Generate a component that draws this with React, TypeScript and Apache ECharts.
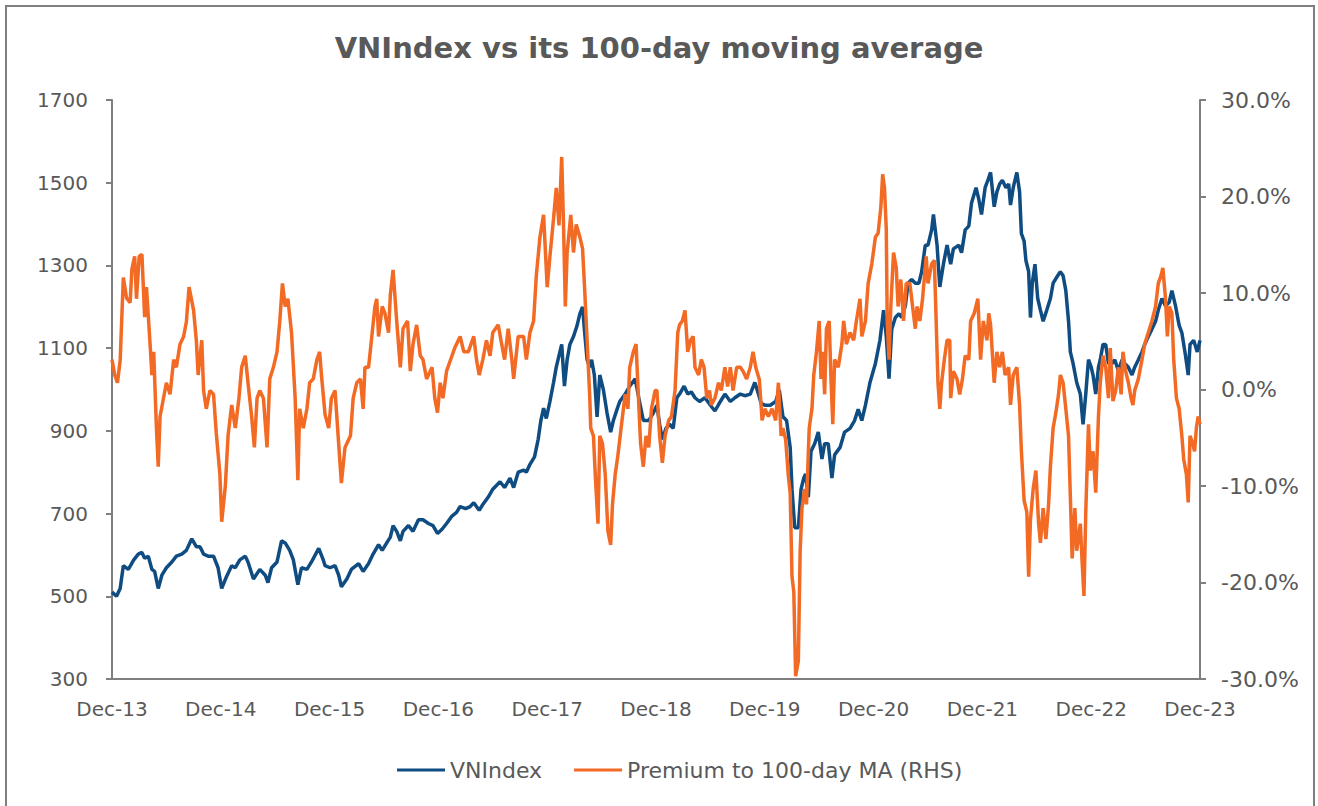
import React, { useEffect, useRef } from "react";
import * as echarts from "echarts";

// x positions are months after Dec-2013 (0 = Dec-13, 120 = Dec-23)
const xTickLabels = ["Dec-13", "Dec-14", "Dec-15", "Dec-16", "Dec-17", "Dec-18", "Dec-19", "Dec-20", "Dec-21", "Dec-22", "Dec-23"];

const vnMonths = [
  0, 0.5, 0.9, 1.25, 1.8, 2.4, 2.9, 3.3, 3.6, 4.0, 4.4, 4.7, 5.1, 5.5, 6.0, 6.6, 7.1, 7.7, 8.2, 8.8, 9.3, 9.7,
  10.1, 10.6, 11.2, 11.7, 12.1, 12.6, 13.2, 13.6, 14.1, 14.7, 15.0, 15.6, 16.3, 16.9, 17.2, 17.6, 18.2, 18.7,
  19.1, 19.6, 20.0, 20.5, 20.9, 21.5, 22.0, 22.8, 23.3, 23.5, 24.05, 24.6, 25.0, 25.3, 25.9, 26.4, 27.2, 27.7,
  28.3, 28.8, 29.4, 29.8, 30.3, 30.7, 31.0, 31.4, 31.8, 32.1, 32.7, 33.2, 33.8, 34.3, 34.9, 35.4, 35.9, 36.4,
  36.9, 37.5, 38.0, 38.4, 39.0, 39.5, 39.9, 40.5, 40.9, 41.5, 42.0, 42.8, 43.3, 43.9, 44.3, 44.8, 45.4, 45.7,
  46.1, 46.6, 47.0, 47.3, 47.6, 47.9, 48.3, 48.7, 49.0, 49.3, 49.6, 49.9, 50.2, 50.5, 50.9, 51.3, 51.6, 51.9,
  52.1, 52.4, 52.7, 52.9, 53.2, 53.5, 53.8, 54.2, 54.6, 55.0, 55.3, 55.7, 56.0, 56.6, 57.1, 57.7, 58.1, 58.6,
  59.2, 59.7, 60.1, 60.4, 60.7, 61.1, 61.5, 61.9, 62.3, 62.6, 63.1, 63.5, 63.9, 64.3, 64.8, 65.4, 66.0, 66.5,
  67.1, 67.6, 68.2, 68.7, 69.3, 69.8, 70.4, 70.9, 71.3, 71.6, 72.0, 72.6, 73.2, 73.6, 74.0, 74.4, 74.8, 75.0,
  75.3, 75.7, 76.0, 76.3, 76.5, 76.8, 77.1, 77.5, 77.9, 78.3, 78.6, 79.0, 79.4, 79.7, 80.3, 80.8, 81.4, 81.9,
  82.3, 82.7, 83.1, 83.6, 84.2, 84.7, 85.1, 85.4, 85.7, 86.0, 86.4, 86.8, 87.1, 87.5, 87.8, 88.2, 88.6, 89.0,
  89.3, 89.7, 90.0, 90.4, 90.6, 91.0, 91.3, 91.7, 92.1, 92.5, 92.8, 93.4, 93.7, 94.1, 94.5, 94.8, 95.3, 95.6,
  95.9, 96.3, 96.6, 96.9, 97.3, 97.6, 97.9, 98.2, 98.6, 98.9, 99.1, 99.4, 99.8, 100.1, 100.3, 100.6, 100.8,
  101.1, 101.3, 101.5, 101.8, 102.1, 102.4, 102.7, 103.1, 103.5, 103.8, 104.3, 104.6, 104.9, 105.2, 105.5,
  105.7, 106.0, 106.4, 106.8, 107.1, 107.4, 107.7, 108.0, 108.2, 108.5, 108.8, 109.0, 109.3, 109.6, 109.9,
  110.3, 110.6, 111.0, 111.4, 111.7, 112.1, 112.5, 112.8, 113.2, 113.6, 113.9, 114.3, 114.7, 115.1, 115.4,
  115.8, 116.2, 116.6, 116.9, 117.3, 117.7, 118.0, 118.4, 118.7, 118.9, 119.3, 119.7, 120.0,
];

const vnIndex = [
  510, 500, 519, 574, 565, 588, 602, 606, 592, 597, 565, 560, 519, 551, 569, 583, 597, 602, 611, 639, 620, 620,
  602, 597, 597, 569, 519, 546, 574, 569, 588, 597, 583, 542, 565, 551, 533, 569, 583, 634,
  629, 611, 588, 528, 569, 565, 583, 616, 588, 574, 569, 574, 551, 523, 542, 565, 579, 560,
  579, 602, 625, 611, 629, 643, 671, 657, 634, 657, 671, 657, 685, 685, 676, 671, 652, 662,
  676, 694, 703, 717, 712, 717, 726, 708, 722, 740, 759, 777, 763, 786, 763, 800, 805, 800,
  819, 837, 879, 925, 955, 930, 971, 1017, 1054, 1082, 1109, 1008, 1072, 1109, 1128, 1155, 1183, 1200,
  1146, 1072, 1054, 1072, 1035, 934, 1035, 999, 943, 897, 925, 952, 971, 989, 1008, 1026, 980, 925,
  925, 943, 962, 916, 879, 906, 916, 906, 980, 989, 1008, 989, 994, 980, 971, 980, 962, 948,
  971, 989, 971, 980, 989, 985, 989, 1017, 989, 966, 962, 962, 971, 999, 934, 925, 860, 759,
  666, 666, 759, 786, 796, 740, 851, 869, 897, 832, 869, 869, 786, 842, 860, 897, 906, 925,
  952, 925, 962, 1017, 1063, 1119, 1192, 1128, 1026, 1146, 1174, 1183, 1174, 1202, 1257, 1266, 1257, 1257,
  1285, 1349, 1349, 1386, 1423, 1349, 1248, 1303, 1349, 1303, 1340, 1349, 1331, 1386, 1395, 1451, 1488, 1460,
  1423, 1488, 1506, 1525, 1442, 1478, 1497, 1506, 1488, 1497, 1446, 1488, 1525, 1478, 1377, 1359, 1312,
  1285, 1174, 1257, 1303, 1220, 1192, 1165, 1192, 1220, 1257, 1275, 1285, 1275, 1239, 1165,
  1091, 1063, 1017, 989, 916, 989, 1072, 1054, 1035, 989, 1054, 1072, 1109, 1109, 1063,
  1063, 1072, 1045, 1072, 1063, 1054, 1035, 1054, 1072, 1091, 1109, 1128, 1146, 1165, 1192,
  1220, 1202, 1211, 1239, 1202, 1155, 1137, 1082, 1035, 1109, 1119, 1091, 1119,
];

const premMonths = [
  0, 0.3, 0.6, 0.9, 1.25, 1.6, 2.0, 2.2, 2.5, 2.7, 3.0, 3.3, 3.6, 3.8, 4.2, 4.4, 4.6, 4.9, 5.1, 5.3, 5.7, 6.0,
  6.4, 6.8, 7.1, 7.5, 7.9, 8.2, 8.5, 9.0, 9.3, 9.5, 9.9, 10.1, 10.4, 10.8, 11.2, 11.5, 11.9, 12.1, 12.5, 12.8,
  13.2, 13.6, 14.0, 14.3, 14.7, 15.0, 15.4, 15.7, 16.0, 16.3, 16.7, 17.1, 17.4, 17.8, 18.2, 18.5, 18.8, 19.1,
  19.4, 19.8, 20.2, 20.5, 20.7, 21.1, 21.5, 21.8, 22.2, 22.6, 22.9, 23.1, 23.5, 23.9, 24.2, 24.6, 25.0, 25.3,
  25.7, 26.3, 26.6, 27.0, 27.4, 27.7, 27.9, 28.3, 28.7, 29.0, 29.2, 29.4, 29.8, 30.1, 30.5, 30.7, 31.0, 31.4,
  31.8, 32.1, 32.6, 32.9, 33.2, 33.6, 34.0, 34.3, 34.7, 35.3, 35.6, 35.9, 36.2, 36.5, 36.9, 37.5, 37.8, 38.4,
  38.8, 39.3, 39.9, 40.2, 40.5, 40.9, 41.3, 41.7, 42.0, 42.6, 42.9, 43.3, 43.7, 44.1, 44.3, 44.8, 45.4, 45.7,
  46.1, 46.5, 46.8, 47.2, 47.6, 48.0, 48.3, 48.7, 49.0, 49.3, 49.6, 49.8, 50.0, 50.2, 50.6, 50.9, 51.2, 51.6,
  51.9, 52.1, 52.3, 52.5, 52.7, 52.8, 53.1, 53.3, 53.6, 53.8, 54.1, 54.4, 54.7, 55.0, 55.2, 55.5, 55.8, 56.2,
  56.6, 56.9, 57.1, 57.5, 57.8, 58.1, 58.3, 58.6, 58.9, 59.2, 59.5, 59.9, 60.1, 60.4, 60.7, 61.0, 61.4, 61.7,
  62.1, 62.4, 62.6, 62.9, 63.2, 63.5, 63.8, 64.1, 64.3, 64.7, 65.0, 65.3, 65.6, 65.9, 66.1, 66.5, 66.9, 67.2,
  67.6, 67.9, 68.2, 68.5, 68.9, 69.3, 69.6, 70.0, 70.4, 70.7, 71.0, 71.4, 71.7, 72.0, 72.4, 72.8, 73.2, 73.5,
  73.8, 74.0, 74.3, 74.6, 74.8, 75.0, 75.2, 75.4, 75.7, 75.9, 76.1, 76.4, 76.6, 76.9, 77.2, 77.4, 77.7, 78.0,
  78.2, 78.4, 78.6, 78.8, 79.1, 79.3, 79.5, 79.7, 80.1, 80.5, 80.7, 81.0, 81.4, 81.8, 82.1, 82.5, 82.7, 83.1,
  83.4, 83.8, 84.2, 84.5, 84.8, 85.0, 85.2, 85.4, 85.5, 85.7, 85.9, 86.2, 86.5, 86.7, 87.0, 87.3, 87.6, 88.0,
  88.3, 88.6, 88.8, 89.1, 89.4, 89.8, 90.0, 90.4, 90.7, 90.9, 91.1, 91.3, 91.5, 91.8, 92.1, 92.4, 92.5, 92.8,
  93.2, 93.5, 93.8, 94.1, 94.5, 94.7, 95.1, 95.5, 95.8, 96.1, 96.5, 96.7, 96.9, 97.3, 97.6, 97.9, 98.2, 98.5,
  98.9, 99.1, 99.4, 99.8, 100.1, 100.3, 100.6, 100.9, 101.1, 101.3, 101.6, 101.9, 102.2, 102.4, 102.7, 103.0,
  103.3, 103.5, 103.8, 104.1, 104.4, 104.6, 104.9, 105.2, 105.5, 105.7, 105.9, 106.2, 106.4, 106.8, 107.0,
  107.2, 107.4, 107.7, 107.9, 108.2, 108.5, 108.8, 109.0, 109.3, 109.6, 109.9, 110.1, 110.4, 110.7, 111.0,
  111.3, 111.5, 111.8, 112.1, 112.4, 112.6, 112.8, 113.2, 113.6, 113.9, 114.3, 114.7, 115.1, 115.4, 115.7,
  115.9, 116.2, 116.4, 116.6, 116.9, 117.1, 117.4, 117.7, 118.0, 118.2, 118.5, 118.7, 118.9, 119.2, 119.4,
  119.6, 119.8, 120.0,
];

// premium to 100-day MA, in percent
const premium = [
  3.1, 1.5, 0.7, 3.0, 11.6, 9.5, 9.0, 12.5, 13.8, 9.4, 13.8, 14.0, 7.5, 10.6, 4.7, 1.5, 3.9, -4.0, -8.0, -2.8, -0.8, 0.7,
  -0.5, 3.1, 2.3, 4.7, 5.5, 7.0, 10.6, 8.2, 5.1, 1.5, 5.1, -0.1, -2.0, -0.1, -0.5, -4.5, -8.8, -13.7, -10.0, -4.8,
  -1.6, -4.0, -0.9, 2.3, 3.5, 0.7, -2.8, -6.0, -0.9, -0.1, -0.9, -6.0, 1.1, 2.3, 3.9, 7.0, 11.0, 8.6,
  9.4, 5.9, -0.9, -9.4, -2.0, -4.0, -2.0, 0.7, 1.1, 3.1, 3.9, 1.5, -2.6, -4.0, -0.9, -0.1, -5.6, -9.7,
  -6.0, -4.8, -0.9, 0.7, 1.1, -2.0, 2.3, 2.3, 5.9, 8.6, 9.4, 5.5, 8.6, 7.9, 5.9, 9.8, 12.4, 7.1,
  2.3, 6.3, 7.1, 1.9, 4.7, 6.7, 3.5, 3.1, 1.1, 2.3, -0.9, -2.4, 0.7, -0.9, 1.9, 3.5, 4.3, 5.5,
  3.9, 3.9, 5.5, 3.1, 1.5, 3.1, 5.1, 3.5, 5.9, 6.7, 5.1, 3.1, 6.3, 3.1, 1.1, 5.5, 5.5, 3.1,
  5.9, 7.1, 11.8, 15.8, 18.1, 10.6, 13.8, 17.7, 20.9, 17.0, 24.1, 17.0, 8.6, 14.2, 18.1, 14.2, 17.1, 15.8,
  14.6, 11.0, 7.1, 3.1, -0.9, -4.0, -4.8, -8.8, -13.9, -4.8, -5.6, -8.8, -14.7, -16.1, -11.9, -8.8, -6.8, -3.6,
  -0.5, -2.0, 2.3, 3.9, 4.7, -1.6, -5.6, -8.0, -4.8, -6.0, -2.0, -0.1, -0.1, -4.8, -7.6, -4.8, -3.2, -2.8,
  -0.1, 5.9, 6.7, 7.1, 8.2, 3.9, 5.1, 5.5, 2.3, 1.5, 3.1, 2.3, -0.9, -0.1, -1.6, -0.9, 0.7, -0.1,
  2.3, 0.3, 2.3, -0.1, 2.3, 2.3, 1.9, 1.1, 2.3, 3.9, 2.3, 1.0, -3.2, -2.0, -2.8, -2.0, -3.2, 0.7,
  -4.8, -4.0, -5.2, -9.0, -10.7, -19.4, -21.0, -29.7, -28.1, -16.7, -12.3, -10.3, -11.9, -4.0, -2.0, 1.5, 3.9, 7.1,
  1.1, 3.9, -0.5, 6.3, 7.1, 1.1, -3.6, 3.1, 2.3, 4.7, 7.1, 4.7, 5.9, 5.1, 7.1, 9.4, 5.5, 7.1,
  11.0, 13.0, 15.8, 16.2, 18.9, 22.3, 20.9, 16.6, 7.1, 3.1, 8.6, 14.2, 12.6, 8.6, 11.4, 7.1, 11.0, 11.0,
  8.6, 6.3, 8.6, 7.1, 9.4, 13.8, 11.0, 13.0, 13.4, 7.1, 0.7, -2.0, 0.7, 3.1, 5.1, 5.1, -0.9, 1.9,
  1.1, -0.5, 1.1, 3.5, 3.1, 7.1, 7.9, 9.4, 3.1, 7.1, 5.1, 7.9, 6.7, 0.7, 3.9, 2.3, 3.9, 1.5,
  2.3, -1.6, 1.5, 2.3, -1.6, -6.4, -11.5, -12.7, -19.4, -13.5, -10.3, -8.4, -13.9, -15.9, -12.3, -15.5,
  -11.9, -8.0, -4.0, -2.4, -0.5, 1.5, 0.7, -2.0, -4.8, -11.1, -17.5, -12.3, -16.7, -13.9, -17.9,
  -21.4, -12.7, -3.6, -8.4, -6.4, -10.7, -2.8, 0.7, 3.5, 2.3, -0.9, 4.3, -1.2, -0.1, 2.3,
  -0.5, 3.9, 1.9, 0.7, -0.9, -1.6, -0.1, 1.1, 3.1, 4.7, 5.9, 7.1, 8.6, 11.0, 11.8,
  12.6, 9.4, 5.5, 8.6, 7.9, 3.1, -0.9, -2.0, -4.8, -7.2, -8.8, -11.7, -4.8, -5.6, -6.4,
  -4.0, -2.8, -3.6,
];

const seriesNames = ["VNIndex", "Premium to 100-day MA (RHS)"];
const titleText = "VNIndex vs its 100-day moving average";

const FONT = "'DejaVu Sans', sans-serif";
const GREY = "#595959";
const AXIS = "#7f7f7f";

export default function App() {
  const ref = useRef<HTMLDivElement>(null);

  useEffect(() => {
    document.body.style.margin = "0";
    if (!ref.current) return;
    const chart = echarts.init(ref.current, null, { renderer: "svg" });

    const vnData = vnMonths.map((m, i) => [m, vnIndex[i]]);
    const prData = premMonths.map((m, i) => [m, premium[i]]);

    chart.setOption({
      animation: false,
      backgroundColor: "#ffffff",
      textStyle: { fontFamily: FONT },
      title: {
        text: titleText,
        left: "center",
        top: 28,
        textStyle: { fontFamily: FONT, fontSize: 29, fontWeight: "bold", color: GREY },
      },
      graphic: [
        {
          type: "rect",
          shape: { x: 6, y: 6, width: 1308, height: 830 },
          style: { fill: "none", stroke: AXIS, lineWidth: 2 },
          silent: true,
          z: -1,
        },
      ],
      legend: {
        bottom: 20,
        left: 392,
        itemWidth: 48,
        itemHeight: 3,
        itemGap: 32,
        icon: "rect",
        textStyle: { fontFamily: FONT, fontSize: 22, color: GREY },
        data: seriesNames,
      },
      grid: { left: 112, right: 118, top: 100, bottom: 127, containLabel: false },
      xAxis: {
        type: "value",
        min: 0,
        max: 120,
        interval: 12,
        axisLine: { show: true, onZero: false, lineStyle: { color: AXIS, width: 2 } },
        axisTick: { show: false },
        splitLine: { show: false },
        axisLabel: {
          margin: 20,
          fontFamily: FONT,
          fontSize: 20,
          color: GREY,
          formatter: (v: number) => xTickLabels[Math.round(v / 12)] ?? "",
        },
      },
      yAxis: [
        {
          type: "value",
          min: 300,
          max: 1700,
          interval: 200,
          position: "left",
          axisLine: { show: true, onZero: false, lineStyle: { color: AXIS, width: 2 } },
          axisTick: { show: true, length: 6, lineStyle: { color: AXIS, width: 2 } },
          splitLine: { show: false },
          axisLabel: {
            margin: 24,
            fontFamily: FONT,
            fontSize: 20,
            color: GREY,
            formatter: (v: number) => String(v),
          },
        },
        {
          type: "value",
          min: -30,
          max: 30,
          interval: 10,
          position: "right",
          axisLine: { show: true, onZero: false, lineStyle: { color: AXIS, width: 2 } },
          axisTick: { show: true, length: 6, lineStyle: { color: AXIS, width: 2 } },
          splitLine: { show: false },
          axisLabel: {
            margin: 21,
            fontFamily: FONT,
            fontSize: 22,
            color: GREY,
            formatter: (v: number) => v.toFixed(1) + "%",
          },
        },
      ],
      series: [
        {
          name: seriesNames[0],
          type: "line",
          yAxisIndex: 0,
          data: vnData,
          showSymbol: false,
          symbol: "none",
          lineStyle: { color: "#0F4C81", width: 3.5 },
          itemStyle: { color: "#0F4C81" },
        },
        {
          name: seriesNames[1],
          type: "line",
          yAxisIndex: 1,
          data: prData,
          showSymbol: false,
          symbol: "none",
          lineStyle: { color: "#F26A24", width: 3.5 },
          itemStyle: { color: "#F26A24" },
        },
      ],
    });

    return () => chart.dispose();
  }, []);

  return <div ref={ref} style={{ width: 1318, height: 806 }} />;
}
